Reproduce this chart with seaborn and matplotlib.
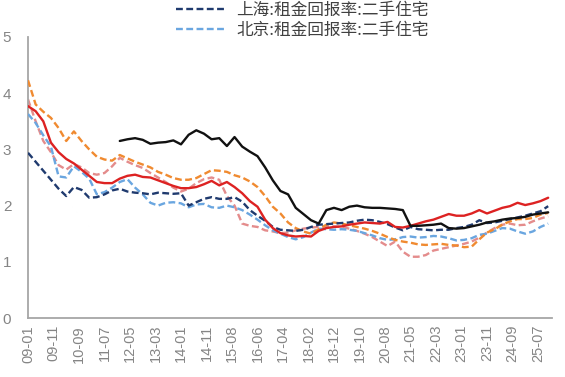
import numpy as np
import pandas as pd
import matplotlib
matplotlib.use("Agg")
import matplotlib.pyplot as plt
import seaborn as sns

nan = np.nan

# observation index (every 3rd period of the category axis)
idx = list(range(0, 205, 3))
tick_pos = list(range(0, 201, 10))
tick_labels = ["09-01", "09-11", "10-09", "11-07", "12-05", "13-03", "14-01",
               "14-11", "15-08", "16-06", "17-04", "18-02", "18-12", "19-10",
               "20-08", "21-05", "22-03", "23-01", "23-11", "24-09", "25-07"]

label_sh = "上海:租金回报率:二手住宅"
label_bj = "北京:租金回报率:二手住宅"

shanghai = [2.94, 2.78, 2.62, 2.46, 2.30, 2.17, 2.33, 2.28, 2.14, 2.15,
            2.20, 2.27, 2.30, 2.25, 2.23, 2.22, 2.20, 2.23, 2.22, 2.21,
            2.22, 2.00, 2.06, 2.12, 2.15, 2.12, 2.12, 2.15, 2.07, 1.92,
            1.82, 1.73, 1.62, 1.57, 1.56, 1.55, 1.57, 1.62, 1.66, 1.67,
            1.68, 1.69, 1.70, 1.73, 1.75, 1.74, 1.71, 1.67, 1.61, 1.56,
            1.62, 1.58, 1.57, 1.56, 1.57, 1.57, 1.60, 1.62, 1.66, 1.74,
            1.69, 1.70, 1.73, 1.76, 1.79, 1.82, 1.86, 1.90, 1.99]

beijing = [3.63, 3.47, 3.25, 3.05, 2.52, 2.50, 2.70, 2.60, 2.48, 2.20,
           2.24, 2.32, 2.42, 2.47, 2.32, 2.20, 2.05, 2.00, 2.05, 2.06,
           2.04, 1.97, 2.02, 2.03, 1.97, 1.96, 2.00, 1.97, 1.92, 1.84,
           1.75, 1.65, 1.56, 1.50, 1.44, 1.40, 1.44, 1.52, 1.59, 1.58,
           1.57, 1.58, 1.57, 1.55, 1.51, 1.47, 1.42, 1.39, 1.40, 1.44,
           1.45, 1.43, 1.44, 1.46, 1.45, 1.42, 1.38, 1.39, 1.42, 1.48,
           1.50, 1.55, 1.60, 1.59, 1.54, 1.50, 1.54, 1.62, 1.68]

orange_s = [4.23, 3.80, 3.67, 3.56, 3.38, 3.15, 3.32, 3.15, 3.00, 2.87,
            2.82, 2.80, 2.90, 2.84, 2.78, 2.73, 2.68, 2.60, 2.55, 2.49,
            2.46, 2.46, 2.49, 2.56, 2.63, 2.62, 2.60, 2.54, 2.50, 2.43,
            2.33, 2.17, 1.98, 1.86, 1.70, 1.60, 1.54, 1.50, 1.58, 1.66,
            1.70, 1.68, 1.65, 1.62, 1.59, 1.55, 1.50, 1.44, 1.39, 1.36,
            1.34, 1.31, 1.30, 1.31, 1.32, 1.30, 1.29, 1.26, 1.27, 1.40,
            1.52, 1.58, 1.66, 1.72, 1.76, 1.76, 1.78, 1.84, 1.87]

pink_s = [3.89, 3.50, 3.15, 2.95, 2.72, 2.64, 2.74, 2.68, 2.58, 2.55,
          2.58, 2.70, 2.85, 2.78, 2.72, 2.67, 2.58, 2.50, 2.42, 2.32,
          2.25, 2.30, 2.40, 2.47, 2.50, 2.46, 2.17, 2.00, 1.68, 1.64,
          1.62, 1.56, 1.54, 1.51, 1.52, 1.56, 1.59, 1.61, 1.62, 1.63,
          1.63, 1.62, 1.59, 1.55, 1.50, 1.44, 1.36, 1.28, 1.36, 1.18,
          1.09, 1.09, 1.12, 1.20, 1.23, 1.26, 1.29, 1.32, 1.36, 1.43,
          1.52, 1.60, 1.66, 1.68, 1.65, 1.66, 1.72, 1.77, 1.81]

red_s = [3.77, 3.68, 3.50, 3.12, 2.95, 2.83, 2.75, 2.64, 2.53, 2.42,
         2.40, 2.40, 2.48, 2.53, 2.55, 2.51, 2.50, 2.45, 2.40, 2.35,
         2.31, 2.31, 2.33, 2.38, 2.44, 2.36, 2.42, 2.33, 2.22, 2.08,
         1.98, 1.75, 1.60, 1.51, 1.47, 1.45, 1.46, 1.45, 1.55, 1.60,
         1.62, 1.63, 1.66, 1.68, 1.70, 1.69, 1.68, 1.71, 1.62, 1.61,
         1.64, 1.68, 1.72, 1.75, 1.80, 1.85, 1.82, 1.82, 1.86, 1.92,
         1.86, 1.91, 1.96, 1.99, 2.05, 2.01, 2.04, 2.08, 2.14]

black_s = [nan, nan, nan, nan, nan, nan, nan, nan, nan, nan,
           nan, nan, 3.15, 3.18, 3.20, 3.17, 3.10, 3.12, 3.13, 3.16,
           3.09, 3.26, 3.34, 3.28, 3.18, 3.20, 3.06, 3.22, 3.05, 2.96,
           2.88, 2.68, 2.45, 2.26, 2.20, 1.96, 1.85, 1.74, 1.68, 1.92,
           1.96, 1.92, 1.98, 2.00, 1.97, 1.96, 1.96, 1.95, 1.94, 1.92,
           1.64, 1.64, 1.65, 1.66, 1.68, 1.60, 1.59, 1.60, 1.63, 1.66,
           1.70, 1.72, 1.75, 1.77, 1.78, 1.80, 1.84, 1.86, 1.88]

sns.set_theme(style="white")
plt.rcParams["font.family"] = ["Noto Sans CJK SC", "DejaVu Sans"]

fig = plt.figure(figsize=(5.65, 3.77), dpi=100)
ax = fig.add_axes([28 / 565, 59 / 377, 524 / 565, 281 / 377])

dash = (0, (2.9, 1.45))
series = [
    ("pink", pink_s, "#E48C8C", dash, 2),
    (label_bj, beijing, "#6AA6E0", dash, 3),
    ("orange", orange_s, "#F08A30", dash, 4),
    (label_sh, shanghai, "#1F3A6E", dash, 5),
    ("red", red_s, "#DD2222", "-", 6),
    ("black", black_s, "#111111", "-", 7),
]

handles = {}
for name, vals, color, ls, z in series:
    df = pd.DataFrame({"idx": idx, "v": vals})
    sns.lineplot(data=df, x="idx", y="v", ax=ax, color=color, linewidth=1.7,
                 linestyle=ls, errorbar=None, legend=False, zorder=z)
    handles[name] = ax.get_lines()[-1]

ax.set_xlim(0, 205.5)
ax.set_ylim(0, 5)
ax.set_xticks(tick_pos)
ax.set_xticklabels(tick_labels, rotation=90)
ax.set_yticks([0, 1, 2, 3, 4, 5])
ax.set_xlabel("")
ax.set_ylabel("")

for s in ["top", "right"]:
    ax.spines[s].set_visible(False)
for s in ["left", "bottom"]:
    ax.spines[s].set_color("#A6A6A6")
    ax.spines[s].set_linewidth(1.3)

ax.tick_params(axis="both", direction="in", length=4, width=1, color="#A6A6A6",
               labelcolor="#858585", labelsize=10.5)
ax.tick_params(axis="y", pad=12, labelsize=11)
ax.tick_params(axis="x", pad=5)
for t in ax.get_xticklabels() + ax.get_yticklabels():
    t.set_family("Liberation Sans")

leg = fig.legend([handles[label_sh], handles[label_bj]], [label_sh, label_bj],
                 loc="upper left", bbox_to_anchor=(176 / 565, 1 - 2 / 377),
                 frameon=False, fontsize=12, handlelength=3.0,
                 handletextpad=0.6, labelspacing=0.2, borderpad=0,
                 borderaxespad=0)
for t in leg.get_texts():
    t.set_color("#404040")

fig.savefig("out.png", dpi=100)
